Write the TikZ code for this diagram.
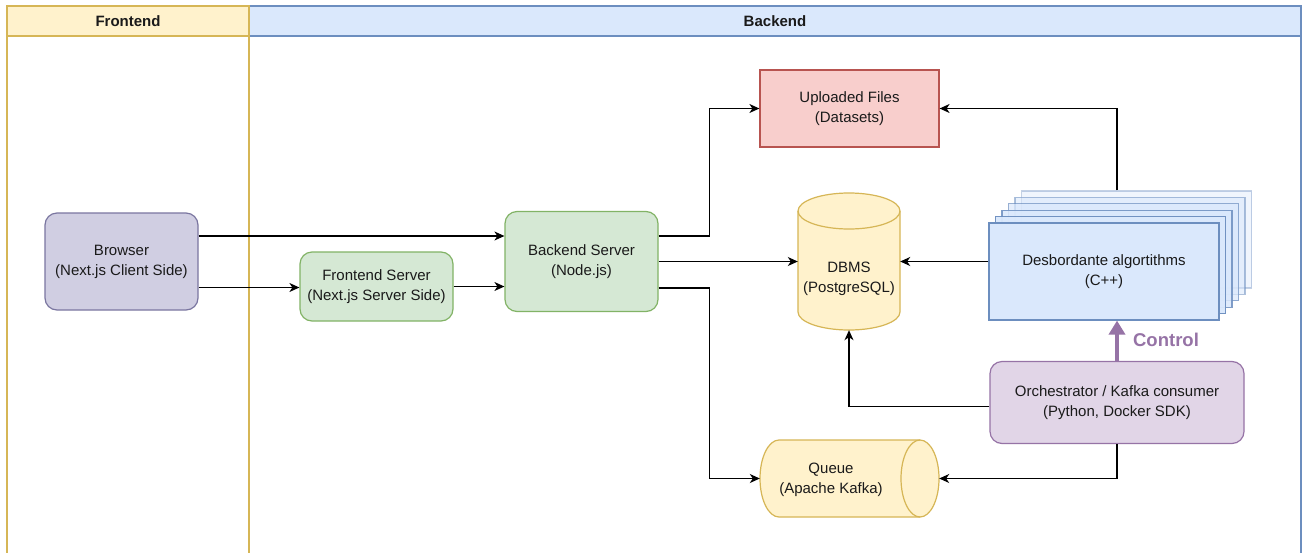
\documentclass[tikz,border=0pt]{standalone}
\usepackage{fontspec}
\setmainfont{Liberation Sans}
\usetikzlibrary{arrows.meta}
\definecolor{yfill}{HTML}{FFF2CC}\definecolor{ystroke}{HTML}{D6B656}
\definecolor{gfill}{HTML}{D5E8D4}\definecolor{gstroke}{HTML}{82B366}
\definecolor{rfill}{HTML}{F8CECC}\definecolor{rstroke}{HTML}{B85450}
\definecolor{bfill}{HTML}{DAE8FC}\definecolor{bstroke}{HTML}{6C8EBF}
\definecolor{pfill}{HTML}{E1D5E7}\definecolor{pstroke}{HTML}{9673A6}
\definecolor{vfill}{HTML}{D0CEE2}\definecolor{vstroke}{HTML}{7A76A0}
\definecolor{txt}{HTML}{1A1A1A}
\begin{document}
\begin{tikzpicture}[x=1pt,y=-1pt,
  every node/.style={text=txt},
  box/.style={draw, line width=1.2pt, align=center, inner sep=0pt,
    font=\fontsize{15}{20}\selectfont},
  rbox/.style={box, rounded corners=12pt},
  lanehead/.style={draw, line width=1.3pt, inner sep=0pt, minimum height=30pt,
    font=\fontsize{15}{18}\selectfont\bfseries},
  lbl/.style={align=center, inner sep=0pt, font=\fontsize{15}{20}\selectfont},
  conn/.style={draw=black, line width=1.2pt, -{Stealth[length=10pt,width=9pt,inset=3pt]}},
  ctrl/.style={draw=pstroke, line width=3.5pt, -{Triangle[length=14pt,width=16pt]}}]
\useasboundingbox (0,0) rectangle (1309,552);
\clip (0,0) rectangle (1309,552);
\fill[white] (0,0) rectangle (1309,552);

% lanes
\draw[bstroke, line width=1.3pt, fill=white] (249,36) rectangle (1301,570);
\draw[ystroke, line width=1.5pt, fill=white] (7,36) rectangle (249,570);
\node[lanehead, draw=bstroke, fill=bfill, minimum width=1052pt] (behead) at (775,21) {Backend};
\node[lanehead, draw=ystroke, fill=yfill, minimum width=242pt] (fehead) at (128,21) {Frontend};

% nodes
\node[rbox, draw=vstroke, fill=vfill, minimum width=153pt, minimum height=97pt] (browser) at (121.5,261.5) {Browser\\(Next.js Client Side)};
\node[rbox, draw=gstroke, fill=gfill, minimum width=153pt, minimum height=69pt] (fe) at (376.5,286.5) {Frontend Server\\(Next.js Server Side)};
\node[rbox, draw=gstroke, fill=gfill, minimum width=153pt, minimum height=100pt] (backend) at (581.5,261.5) {Backend Server\\(Node.js)};
\node[box, draw=rstroke, fill=rfill, minimum width=179pt, minimum height=77pt] (upl) at (849.5,108.5) {Uploaded Files\\(Datasets)};

% DBMS cylinder
\node[minimum width=102pt, minimum height=137pt, inner sep=0pt] (dbms) at (849,261.5) {};
\path[fill=yfill, draw=ystroke, line width=1.2pt] (798,211) -- (798,312)
  arc[start angle=180, end angle=0, x radius=51, y radius=18] -- (900,211)
  arc[start angle=0, end angle=-180, x radius=51, y radius=18] -- cycle;
\draw[ystroke, line width=1.2pt] (798,211) arc[start angle=180, end angle=0, x radius=51, y radius=18];
\node[lbl] (dbmstext) at (849,279) {DBMS\\(PostgreSQL)};

% Queue cylinder
\node[minimum width=179pt, minimum height=77pt, inner sep=0pt] (queue) at (849.5,478.5) {};
\path[fill=yfill, draw=ystroke, line width=1.2pt] (779,440)
  arc[start angle=-90, end angle=-270, x radius=19, y radius=38.5] -- (920,517)
  arc[start angle=90, end angle=-90, x radius=19, y radius=38.5] -- cycle;
\draw[ystroke, line width=1.2pt] (920,440) arc[start angle=-90, end angle=-270, x radius=19, y radius=38.5];
\node[lbl] (queuetext) at (831,479.5) {Queue\\(Apache Kafka)};

% Desbordante stack
\node[box, draw=bstroke, fill=bfill, draw opacity=0.4, fill opacity=0.4, minimum width=230pt, minimum height=97pt] (desbback) at (1136.5,239.5) {};
\foreach \k/\op in {4/0.55,3/0.7,2/0.85,1/0.95}{
  \draw[bstroke, line width=1.2pt, fill=bfill, draw opacity=\op, fill opacity=\op]
    (989+6.5*\k,223-6.4*\k) rectangle (1219+6.5*\k,320-6.4*\k);
}
\node[box, draw=bstroke, fill=bfill, minimum width=230pt, minimum height=97pt] (desb) at (1104,271.5) {Desbordante algortithms\\(C++)};

% Orchestrator
\node[rbox, draw=pstroke, fill=pfill, minimum width=254pt, minimum height=82pt] (orch) at (1117,402.5) {Orchestrator / Kafka consumer\\(Python, Docker SDK)};

% connectors
\coordinate (b1) at ([yshift=25.5pt]browser.east);
\coordinate (b2) at ([yshift=-26pt]browser.east);
\draw[conn] (b1) -- (b1 -| backend.west);
\draw[conn] (b2) -- (b2 -| fe.west);
\draw[conn] (fe.east) -- (fe.east -| backend.west);
\coordinate (s1) at ([yshift=25.5pt]backend.east);
\coordinate (s3) at ([yshift=-26.5pt]backend.east);
\draw[conn] (s1) -- ++(51,0) |- (upl.west);
\draw[conn] (backend.east) -- (backend.east -| dbms.west);
\draw[conn] (s3) -- ++(51,0) |- (queue.east -| queue.west);
\coordinate (dtop) at (desbback.north -| orch.north);
\draw[conn] (dtop) |- (upl.east);
\draw[conn] (desb.west |- dbms.east) -- (dbms.east);
\draw[conn] ([yshift=-4pt]orch.west) -| (dbms.south);
\draw[conn] (orch.south) |- (queue.east);
\draw[ctrl] (orch.north) -- (desb.south -| orch.north);
\node[font=\fontsize{18.5}{20}\selectfont\bfseries, text=pstroke, inner sep=0pt] (ctrllabel) at (1166,340) {Control};
\end{tikzpicture}
\end{document}
